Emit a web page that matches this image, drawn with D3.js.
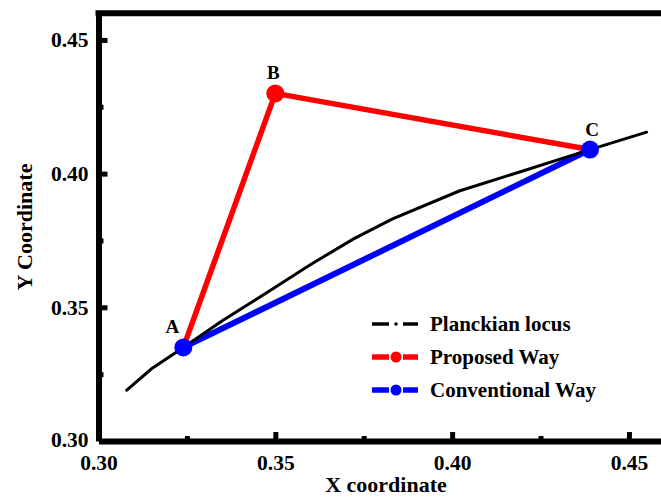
<!DOCTYPE html>
<html>
<head>
<meta charset="utf-8">
<script src="https://cdn.jsdelivr.net/npm/d3@7"></script>
<style>
  html, body { margin: 0; padding: 0; background: #fff; }
  svg { display: block; }
  text { font-family: "Liberation Serif", "Times New Roman", serif; font-weight: bold; fill: #000; }
</style>
</head>
<body>
<svg id="chart" width="661" height="498"></svg>
<script>
// ---- data ----
const locusX = [0.308, 0.315, 0.324, 0.335, 0.347, 0.360, 0.372, 0.383, 0.402, 0.420, 0.439, 0.455];
const locusY = [0.319, 0.327, 0.335, 0.345, 0.355, 0.366, 0.3755, 0.383, 0.3935, 0.401, 0.409, 0.4155];

const pointNames = ["A", "B", "C"];
const pointX = [0.324, 0.350, 0.439];
const pointY = [0.335, 0.430, 0.409];

const proposedOrder = ["A", "B", "C"];
const conventionalOrder = ["A", "C"];

const xMajorTicks = [0.30, 0.35, 0.40, 0.45];
const xMinorTicks = [0.325, 0.375, 0.425];
const yMajorTicks = [0.30, 0.35, 0.40, 0.45];
const yMinorTicks = [0.325, 0.375, 0.425];

const legendLabels = ["Planckian locus", "Proposed Way", "Conventional Way"];
const legendColors = ["#000000", "#ff0000", "#0000ff"];

// ---- layout ----
const svg = d3.select("#chart");
const x = d3.scaleLinear().domain([0.30, 0.46]).range([98.5, 664.3]);
const y = d3.scaleLinear().domain([0.30, 0.46]).range([441, 13.2]);
const fmt = d3.format(".2f");

const pts = {};
pointNames.forEach((n, i) => pts[n] = [pointX[i], pointY[i]]);
const line = d3.line().x(d => x(d[0])).y(d => y(d[1]));

// frame top / right
svg.append("line").attr("x1", x(0.30) - 3).attr("x2", x(0.46)).attr("y1", y(0.46)).attr("y2", y(0.46))
  .style("stroke", "#000").style("stroke-width", "6px");
svg.append("line").attr("x1", x(0.46)).attr("x2", x(0.46)).attr("y1", y(0.46)).attr("y2", y(0.30))
  .style("stroke", "#000").style("stroke-width", "6px");

// x axis
const gx = svg.append("g").attr("transform", `translate(0,${y(0.30)})`)
  .call(d3.axisBottom(x).tickValues(xMajorTicks).tickFormat(fmt).tickSize(-9).tickSizeOuter(0).tickPadding(8));
const gxm = svg.append("g").attr("transform", `translate(0,${y(0.30)})`)
  .call(d3.axisBottom(x).tickValues(xMinorTicks).tickFormat("").tickSize(-5).tickSizeOuter(0));
gxm.select(".domain").remove();

// y axis
const gy = svg.append("g").attr("transform", `translate(${x(0.30)},0)`)
  .call(d3.axisLeft(y).tickValues(yMajorTicks).tickFormat(fmt).tickSize(-9).tickSizeOuter(0).tickPadding(8));
const gym = svg.append("g").attr("transform", `translate(${x(0.30)},0)`)
  .call(d3.axisLeft(y).tickValues(yMinorTicks).tickFormat("").tickSize(-5).tickSizeOuter(0));
gym.select(".domain").remove();

[gx, gy, gxm, gym].forEach(g => {
  g.selectAll(".tick line").style("stroke", "#000").style("stroke-width", "5px");
});
gx.select(".domain").style("stroke", "#000").style("stroke-width", "6px");
gy.select(".domain").style("stroke", "#000").style("stroke-width", "6px");
gx.selectAll(".tick text").attr("font-size", 21.5).attr("dy", null).attr("y", 29);
gy.selectAll(".tick text").attr("font-size", 21.5).attr("x", -10);
gy.selectAll(".tick").filter(d => d === 0.30).select("text").attr("dy", "0.25em");
svg.selectAll(".tick text").style("font-family", '"Liberation Serif", "Times New Roman", serif').style("font-weight", "bold");
svg.selectAll(".tick line").filter(function(d){ return d === 0.30; }).remove();

// axis titles
svg.append("text").attr("x", 386).attr("y", 492).attr("text-anchor", "middle").attr("font-size", 22).text("X coordinate");
svg.append("text").attr("transform", "translate(32,227) rotate(-90)").attr("text-anchor", "middle").attr("font-size", 22).text("Y Coordinate");

// series lines
svg.append("path").datum(proposedOrder.map(n => pts[n])).attr("d", line)
  .attr("fill", "none").attr("stroke", "#ff0000").attr("stroke-width", 5.5).attr("stroke-linejoin", "round");
svg.append("path").datum(conventionalOrder.map(n => pts[n])).attr("d", line)
  .attr("fill", "none").attr("stroke", "#0000ff").attr("stroke-width", 6);
svg.append("path").datum(locusX.map((v, i) => [v, locusY[i]])).attr("d", line)
  .attr("fill", "none").attr("stroke", "#000").attr("stroke-width", 3).attr("stroke-linecap", "round");

// points
const pointColor = {A: "#0000ff", B: "#ff0000", C: "#0000ff"};
svg.selectAll("circle.pt").data(pointNames).enter().append("circle").attr("class", "pt")
  .attr("cx", n => x(pts[n][0])).attr("cy", n => y(pts[n][1])).attr("r", 9)
  .attr("fill", n => pointColor[n]);

// point labels
const labelOff = {A: [-11, -14], B: [-2, -14], C: [2, -14]};
svg.selectAll("text.pl").data(pointNames).enter().append("text").attr("class", "pl")
  .attr("x", n => x(pts[n][0]) + labelOff[n][0]).attr("y", n => y(pts[n][1]) + labelOff[n][1])
  .attr("text-anchor", "middle").attr("font-size", 19).text(n => n);

// legend
const lg = svg.append("g");
legendLabels.forEach((lab, i) => {
  const cy = 324 + i * 33;
  const g = lg.append("g");
  g.append("line").attr("x1", 372).attr("x2", 389).attr("y1", cy).attr("y2", cy)
    .attr("stroke", legendColors[i]).attr("stroke-width", i === 0 ? 3.5 : 5.5);
  g.append("line").attr("x1", 403).attr("x2", 418).attr("y1", cy).attr("y2", cy)
    .attr("stroke", legendColors[i]).attr("stroke-width", i === 0 ? 3.5 : 5.5);
  if (i === 0) {
    g.append("circle").attr("cx", 396).attr("cy", cy).attr("r", 1.8).attr("fill", "#000");
  } else {
    g.append("circle").attr("cx", 396).attr("cy", cy).attr("r", 5.5).attr("fill", legendColors[i]);
  }
  g.append("text").attr("x", 430).attr("y", cy + 7).attr("font-size", 21).text(lab);
});
</script>
</body>
</html>
